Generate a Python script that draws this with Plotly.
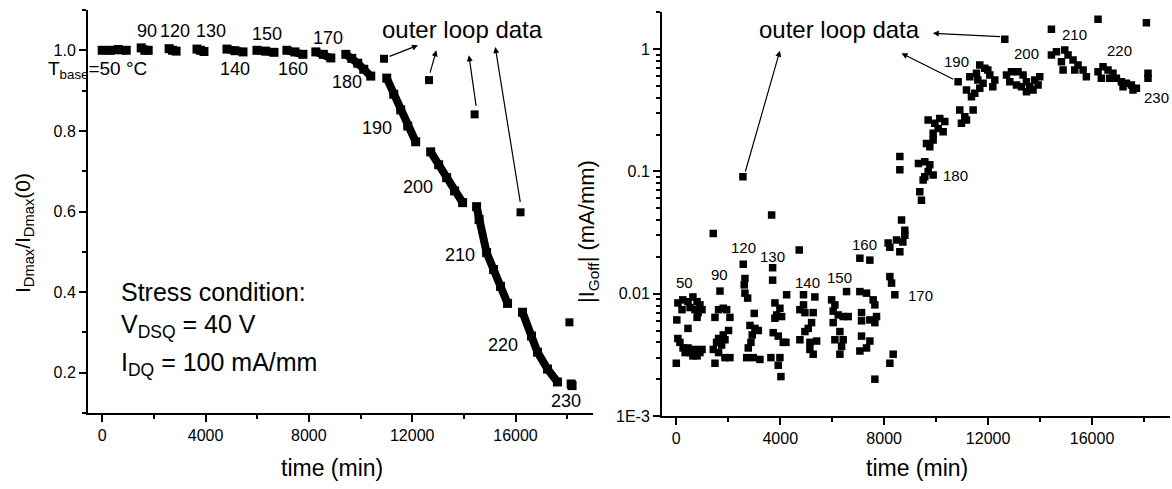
import math
import plotly.graph_objects as go

FONT = "Liberation Sans, Arial, Helvetica, sans-serif"

# ---------------- Left panel: I_Dmax / I_Dmax(0) vs time ----------------
seg_temps = [50, 90, 120, 130, 140, 150, 160, 170, 180, 190, 200, 210, 220, 230]
seg_time = [
    [0, 310, 620, 930],
    [1510, 1650, 1780],
    [2590, 2720, 2860],
    [3670, 3800, 3940],
    [4830, 5140, 5450],
    [5990, 6320, 6650],
    [7150, 7460, 7770],
    [8270, 8560, 8850],
    [9430, 9660, 9894, 10126, 10397],
    [11015, 11286, 11556, 11827, 12136],
    [12716, 13025, 13334, 13643, 13953],
    [14494, 14590, 14880, 15151, 15421, 15692],
    [16272, 16620, 16851, 17238, 17624],
    [18154, 18190],
]
seg_ratio = [
    [1.0, 1.0, 1.002, 1.0],
    [1.006, 1.0, 1.0],
    [1.004, 1.0, 0.998],
    [1.003, 1.0, 0.997],
    [1.003, 0.999, 0.996],
    [1.0, 0.998, 0.995],
    [1.0, 0.996, 0.99],
    [0.996, 0.99, 0.981],
    [0.990, 0.980, 0.968, 0.953, 0.936],
    [0.931, 0.891, 0.852, 0.812, 0.773],
    [0.748, 0.716, 0.684, 0.651, 0.622],
    [0.612, 0.580, 0.498, 0.456, 0.414, 0.372],
    [0.350, 0.291, 0.251, 0.209, 0.177],
    [0.172, 0.168],
]
outer_time_left = [10911, 12651, 14417, 16194, 18088]
outer_ratio_left = [0.979, 0.926, 0.841, 0.598, 0.325]

# ---------------- Right panel: |I_Goff| vs time ----------------
goff_time = (
    [0, 20, 60, 250, 450, 640, 800, 910, 990, 840, 220, 530, 720, 800, 450, 60, 140, 260, 450, 340, 530, 640, 800, 910, 990, 720]
    + [1423, 1681, 1808, 1627, 1938, 1488, 2065, 2011, 1808, 1627, 1550, 1745, 1873, 1423, 1627, 1873, 2065, 1488]
    + [2577, 2642, 2615, 2642, 2746, 3000, 2835, 3027, 3157, 2923, 2873, 2769, 2708, 2962, 3219]
    + [3707, 3707, 4246, 3796, 3988, 3861, 4053, 3796, 3730, 3923, 4115, 3642, 3988, 3923, 4027, 3669]
    + [4731, 4219, 4896, 5334, 4896, 4757, 4950, 5269, 5207, 5077, 4950, 4757, 5142, 5400, 5142, 5269]
    + [6553, 5977, 6104, 6038, 6231, 6423, 6615, 6038, 6296, 6104, 6423, 6361, 6296]
    + [7065, 7449, 7065, 7321, 7577, 7642, 7129, 7129, 7449, 7706, 7642, 7129, 7449, 7321, 7065, 7642]
    + [8669, 8795, 8153, 8476, 8603, 8219, 8284, 8411, 8346, 8219, 8795, 8219, 8719]
    + [8603, 8603, 9372, 9436, 9320, 9564, 9757, 9885, 9564, 9500, 9692, 9629, 9757, 9885, 9692, 9949, 10141, 10334, 10077, 10270, 9885]
    + [11680, 11872, 11296, 11553, 12065, 12257, 12180, 11168, 11360, 11488, 11680, 11807, 10910, 11103, 11424, 10974, 11168, 11988, 11604]
    + [12707, 12900, 13153, 13346, 13476, 13284, 13092, 12834, 13603, 13795, 13988, 13923, 13730, 13476]
    + [14437, 14630, 14949, 15077, 14822, 15269, 15461, 15334, 15654, 15782, 14885]
    + [16230, 16422, 16615, 16807, 16938, 17130, 17322, 17515, 17707, 16358, 16680, 17192, 17577]
    + [18153, 18153]
    + [2565, 10846, 12642, 14437, 16230, 18092]
)
goff_value = (
    [0.0027, 0.0061, 0.0084, 0.0089, 0.0086, 0.0094, 0.0086, 0.0081, 0.0074, 0.0070, 0.0074, 0.0077, 0.0074, 0.0064, 0.0052, 0.0043, 0.0040, 0.0036, 0.0036, 0.0033, 0.0033, 0.0031, 0.0031, 0.0033, 0.0035, 0.0035]
    + [0.031, 0.0105, 0.0076, 0.0074, 0.0074, 0.0064, 0.0064, 0.0050, 0.0046, 0.0043, 0.0040, 0.0038, 0.0042, 0.0035, 0.0033, 0.0030, 0.0030, 0.0027]
    + [0.0174, 0.0133, 0.0118, 0.0101, 0.0092, 0.0069, 0.0055, 0.0052, 0.0050, 0.0046, 0.0040, 0.0036, 0.0030, 0.0030, 0.0029]
    + [0.0163, 0.0129, 0.0098, 0.0084, 0.0076, 0.0067, 0.0065, 0.0063, 0.0048, 0.0045, 0.0040, 0.0030, 0.0030, 0.0026, 0.0021, 0.044]
    + [0.0228, 0.0040, 0.0098, 0.0094, 0.0081, 0.0074, 0.0070, 0.0070, 0.0058, 0.0052, 0.0049, 0.0042, 0.0040, 0.0041, 0.0035, 0.0032]
    + [0.0104, 0.0089, 0.0081, 0.0072, 0.0067, 0.0065, 0.0065, 0.0058, 0.0049, 0.0042, 0.0042, 0.0037, 0.0032]
    + [0.0195, 0.0188, 0.0104, 0.0101, 0.0089, 0.0081, 0.0070, 0.0060, 0.0061, 0.0065, 0.0058, 0.0045, 0.0041, 0.0036, 0.0034, 0.0020]
    + [0.040, 0.033, 0.026, 0.0275, 0.0220, 0.0138, 0.0122, 0.0098, 0.0032, 0.0027, 0.030, 0.024, 0.0265]
    + [0.132, 0.103, 0.068, 0.058, 0.116, 0.120, 0.113, 0.0933, 0.0904, 0.0849, 0.0995, 0.169, 0.159, 0.180, 0.263, 0.247, 0.271, 0.255, 0.224, 0.211, 0.205]
    + [0.740, 0.695, 0.594, 0.633, 0.613, 0.558, 0.492, 0.462, 0.407, 0.434, 0.477, 0.524, 0.317, 0.279, 0.317, 0.247, 0.263, 0.674, 0.558]
    + [0.613, 0.652, 0.652, 0.613, 0.541, 0.492, 0.508, 0.541, 0.492, 0.558, 0.594, 0.508, 0.462, 0.448]
    + [0.893, 0.950, 0.981, 0.893, 0.787, 0.813, 0.740, 0.674, 0.674, 0.594, 0.674]
    + [0.652, 0.717, 0.674, 0.633, 0.576, 0.541, 0.524, 0.508, 0.477, 0.576, 0.576, 0.492, 0.462]
    + [0.633, 0.576]
    + [0.0904, 0.541, 1.20, 1.45, 1.75, 1.64]
)

# temperature labels (text, time, value)
left_labels = [("90", 1739, 1.049), ("120", 2821, 1.049), ("130", 4213, 1.049),
               ("150", 6377, 1.040), ("170", 8735, 1.030), ("140", 5140, 0.953),
               ("160", 7382, 0.953), ("180", 9469, 0.921), ("190", 10629, 0.807),
               ("200", 12213, 0.661), ("210", 13837, 0.493), ("220", 15499, 0.268),
               ("230", 17972, 0.130)]
right_labels = [("50", 323, 0.01245), ("90", 1650, 0.01422), ("120", 2573, 0.0240),
                ("130", 3700, 0.0202), ("140", 5058, 0.01245), ("150", 6296, 0.01355),
                ("160", 7257, 0.0254), ("170", 9400, 0.00975), ("180", 10757, 0.0933),
                ("190", 10784, 0.787), ("200", 13476, 0.922), ("210", 15334, 1.32),
                ("220", 17064, 0.981), ("230", 18476, 0.402)]

# arrows: (head time, head value, tail time, tail value)
left_arrows = [(12225, 1.0124, 11065, 0.9834), (12936, 1.0, 12677, 0.9407),
               (14196, 0.9876, 14482, 0.8584), (15216, 1.0082, 16194, 0.6194)]
right_arrows = [(3988, 0.969, 2642, 0.0969), (8669, 0.922, 10718, 0.558),
                (9872, 1.344, 12515, 1.260)]

x_ticks = [0, 4000, 8000, 12000, 16000]
x_tick_text = ["0", "4000", "8000", "12000", "16000"]
x_minor = [2000, 6000, 10000, 14000, 18000]
y_left_ticks = [0.2, 0.4, 0.6, 0.8, 1.0]
y_left_text = ["0.2", "0.4", "0.6", "0.8", "1.0"]
y_left_minor = [0.1, 0.3, 0.5, 0.7, 0.9, 1.1]
y_right_ticks = [0.001, 0.01, 0.1, 1]
y_right_text = ["1E-3", "0.01", "0.1", "1"]
y_right_minor = [m * d for d in (0.001, 0.01, 0.1) for m in range(2, 10)] + [2]

# ---------------- build figure ----------------
lx, ly = [], []
for ts, vs in zip(seg_time, seg_ratio):
    lx += ts + [None]
    ly += vs + [None]

fig = go.Figure()
fig.add_trace(go.Scatter(x=lx, y=ly, mode="lines+markers", xaxis="x", yaxis="y",
                         line=dict(color="black", width=8), connectgaps=False,
                         marker=dict(symbol="square", size=9, color="black"),
                         showlegend=False, hoverinfo="skip"))
fig.add_trace(go.Scatter(x=outer_time_left, y=outer_ratio_left, mode="markers",
                         xaxis="x", yaxis="y",
                         marker=dict(symbol="square", size=8, color="black"),
                         showlegend=False))
fig.add_trace(go.Scatter(x=goff_time, y=goff_value, mode="markers", xaxis="x2", yaxis="y2",
                         marker=dict(symbol="square", size=7.5, color="black"),
                         showlegend=False))

axis_common = dict(showline=True, linecolor="black", linewidth=2, showgrid=False,
                   zeroline=False, ticks="outside", ticklen=7, tickwidth=1.5,
                   automargin=False,
                   tickcolor="black", tickfont=dict(family=FONT, size=16, color="black"))
minor_common = dict(ticks="outside", ticklen=4, tickwidth=1.5, tickcolor="black", showgrid=False)

W, H = 1172, 489
fig.update_layout(
    template="none",
    width=W, height=H, margin=dict(l=0, r=0, t=0, b=0, pad=0, autoexpand=False),
    paper_bgcolor="white", plot_bgcolor="white",
    font=dict(family=FONT, color="black"),
    xaxis=dict(domain=[88 / W, 593 / W], range=[-550, 19000], anchor="y",
               tickmode="array", tickvals=x_ticks, ticktext=x_tick_text,
               minor=dict(tickvals=x_minor, **minor_common), **axis_common),
    yaxis=dict(domain=[1 - 413 / H, 1 - 10 / H], range=[0.1, 1.1], anchor="x",
               tickmode="array", tickvals=y_left_ticks, ticktext=y_left_text,
               minor=dict(tickvals=y_left_minor, **minor_common), **axis_common),
    xaxis2=dict(domain=[662 / W, 1170 / W], range=[-550, 19000], anchor="y2",
                tickmode="array", tickvals=x_ticks, ticktext=x_tick_text,
                minor=dict(tickvals=x_minor, **minor_common), **axis_common),
    yaxis2=dict(domain=[1 - 416 / H, 1 - 12.2 / H], type="log",
                range=[-3, math.log10(2)], anchor="x2",
                tickmode="array", tickvals=y_right_ticks, ticktext=y_right_text,
                minor=dict(tickvals=y_right_minor, **minor_common), **axis_common),
)

ann = []
for txt, t, v in left_labels:
    ann.append(dict(x=t, y=v, xref="x", yref="y", text=txt, showarrow=False,
                    font=dict(size=18)))
for txt, t, v in right_labels:
    ann.append(dict(x=t, y=math.log10(v), xref="x2", yref="y2", text=txt, showarrow=False,
                    font=dict(size=15)))
for hx, hy, tx, ty in left_arrows:
    ann.append(dict(x=hx, y=hy, ax=tx, ay=ty, xref="x", yref="y", axref="x", ayref="y",
                    text="", showarrow=True, arrowhead=2, arrowsize=1, arrowwidth=1.2,
                    arrowcolor="black"))
for hx, hy, tx, ty in right_arrows:
    ann.append(dict(x=hx, y=math.log10(hy), ax=tx, ay=math.log10(ty),
                    xref="x2", yref="y2", axref="x2", ayref="y2",
                    text="", showarrow=True, arrowhead=2, arrowsize=1, arrowwidth=1.2,
                    arrowcolor="black"))

def pann(px, py, text, size, xanchor="center", yanchor="middle", angle=0):
    ann.append(dict(x=px / W, y=1 - py / H, xref="paper", yref="paper", text=text,
                    showarrow=False, xanchor=xanchor, yanchor=yanchor, textangle=angle,
                    font=dict(size=size)))

pann(462, 29, "outer loop data", 24)
pann(839, 29, "outer loop data", 24)
pann(46, 70, "T<sub>base</sub>=50 °C", 19, xanchor="left")
pann(119, 292, "Stress condition:", 25, xanchor="left")
pann(119, 326, "V<sub>DSQ</sub> = 40 V", 25, xanchor="left")
pann(119, 364, "I<sub>DQ</sub> = 100 mA/mm", 25, xanchor="left")
pann(332, 468, "time (min)", 23)
pann(917, 468, "time (min)", 23)
pann(24, 233, "I<sub>Dmax</sub>/I<sub>Dmax</sub>(0)", 21, angle=-90)
pann(588, 232, "|I<sub>Goff</sub>| (mA/mm)", 22, angle=-90)

fig.update_layout(annotations=ann)
fig.write_html("out.html")
